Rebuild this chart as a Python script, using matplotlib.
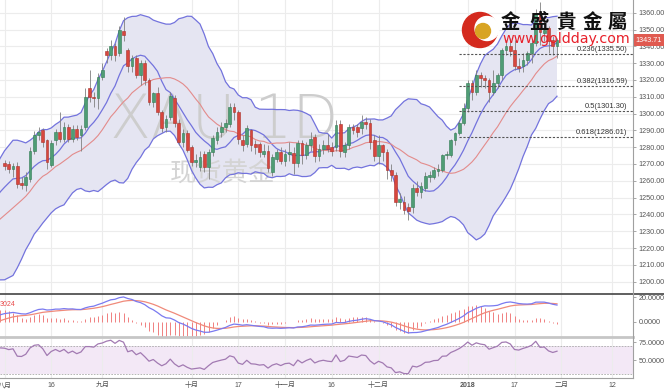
import matplotlib
matplotlib.use("Agg")
import matplotlib.pyplot as plt
from matplotlib.patches import Circle
import numpy as np
import pandas as pd

plt.rcParams['font.family'] = ['Liberation Sans', 'Noto Sans CJK SC', 'DejaVu Sans']

# closes before the first visible candle (May 1 - Jul 31 2017), only used to warm up the indicators
warmup_close = [
    1255.6, 1255.9, 1248.1, 1228.8, 1228.0, 1226.7, 1216.0, 1219.5, 1225.4, 1227.7,
    1230.0, 1236.3, 1258.4, 1252.6, 1253.8, 1260.7, 1251.0, 1251.7, 1256.5, 1266.6,
    1262.9, 1262.4, 1268.3, 1264.9, 1279.6, 1280.6, 1293.3, 1286.9, 1279.5, 1266.7,
    1266.5, 1266.7, 1260.5, 1254.6, 1254.2, 1243.7, 1242.3, 1247.0, 1250.3, 1256.3,
    1246.4, 1253.4, 1249.3, 1244.3, 1241.9, 1219.9, 1226.0, 1222.6, 1224.6, 1212.7,
    1213.0, 1214.2, 1219.2, 1217.6, 1228.1, 1234.2, 1241.5, 1241.4, 1245.0, 1254.4,
    1255.4, 1248.1, 1250.1, 1260.1, 1268.7, 1269.4,
]

# daily XAU candles, Aug 1 2017 - Jan 31 2018
opens = [
    1270.5, 1270, 1267, 1269, 1258.5, 1257.5, 1261, 1278, 1287, 1290,
    1284, 1269.5, 1284, 1289, 1285, 1292, 1285, 1291, 1287, 1292,
    1315, 1310, 1309, 1322, 1337, 1335, 1340, 1336, 1349, 1338,
    1328, 1333, 1323, 1330, 1320, 1307, 1312, 1301, 1292, 1298,
    1309, 1294.5, 1283, 1288.6, 1280, 1271, 1268, 1276, 1268, 1277,
    1284, 1289, 1292, 1294, 1304, 1301, 1284, 1282, 1290, 1282,
    1282, 1276, 1278, 1265, 1273, 1277, 1272, 1276, 1276.7, 1270.7,
    1282.6, 1275.5, 1281, 1286, 1275, 1279, 1281, 1280, 1280, 1294,
    1277, 1281, 1292, 1292, 1291.5, 1295, 1294.5, 1284, 1275, 1281,
    1277, 1266.5, 1263.6, 1247.5, 1247.5, 1244.5, 1244.5, 1256, 1253.5, 1256,
    1262, 1262.4, 1266, 1266.5, 1275.5, 1275.5, 1284, 1288.6, 1294.5, 1303.5,
    1318, 1313, 1323, 1321, 1320, 1313, 1318, 1323, 1338, 1340,
    1338, 1328, 1328, 1332, 1336, 1342, 1360.6, 1348, 1351, 1344,
    1340,
]
highs = [
    1272.5, 1272, 1270.5, 1271, 1262, 1265, 1280, 1289.5, 1292, 1291.5,
    1285, 1284, 1291, 1301, 1295, 1294, 1293, 1293, 1293, 1315,
    1326, 1313, 1324, 1330, 1339, 1344, 1342, 1352, 1357.5, 1339,
    1335, 1335, 1332, 1332, 1321, 1313, 1316, 1302, 1299, 1313,
    1311, 1297, 1291, 1290, 1281, 1276, 1278, 1278, 1279, 1287,
    1292, 1295, 1297, 1306, 1306, 1302, 1287, 1293, 1291, 1284,
    1283, 1282, 1281, 1276, 1279, 1280, 1279, 1283, 1280, 1284,
    1284, 1283, 1289, 1288, 1282, 1284, 1288, 1283, 1296, 1296,
    1283, 1294, 1294, 1294, 1299, 1298, 1297, 1287, 1287, 1282,
    1279, 1270, 1265, 1253, 1251, 1247, 1258, 1260, 1259, 1265,
    1266, 1268, 1270, 1276, 1278, 1285, 1289, 1296, 1306, 1320,
    1320, 1326, 1325, 1323, 1321, 1326, 1324, 1339, 1344, 1345,
    1344, 1333, 1336, 1337, 1344, 1362, 1366.07, 1356, 1352, 1346,
    1345,
]
lows = [
    1266.5, 1264.5, 1262, 1256, 1255, 1254, 1259.5, 1276, 1284.5, 1280,
    1267, 1268, 1281, 1283, 1283, 1283, 1283, 1284, 1278, 1290,
    1307, 1304, 1303, 1320, 1330, 1332, 1331, 1334, 1343, 1325,
    1325, 1321, 1317, 1317, 1305, 1304, 1299, 1289, 1289, 1296,
    1292, 1281, 1280, 1277, 1269, 1268, 1266, 1265, 1261, 1275,
    1282, 1286, 1289, 1292, 1296, 1282, 1278, 1280, 1278, 1276,
    1274, 1274, 1265, 1263, 1271, 1270, 1269, 1272, 1264, 1268,
    1270, 1273, 1278, 1271, 1272, 1276, 1277, 1275, 1278, 1274,
    1274, 1279, 1288, 1286, 1288, 1291, 1279, 1272, 1270, 1272,
    1261, 1260, 1245, 1243, 1240, 1236.53, 1241, 1251, 1250, 1254,
    1259, 1261, 1263, 1265, 1273, 1274, 1281, 1287, 1293, 1301,
    1308, 1311, 1316, 1315, 1307, 1311, 1315, 1320, 1335, 1334,
    1326, 1325, 1325, 1329, 1330, 1340, 1341, 1343, 1336, 1335,
    1333,
]
closes = [
    1269, 1267, 1269, 1258, 1257.5, 1262, 1278, 1287, 1289, 1283,
    1271, 1282.5, 1289, 1285, 1292, 1285, 1291, 1286, 1291, 1310,
    1310, 1309, 1322, 1326, 1335, 1340, 1335, 1350, 1347, 1328,
    1333, 1323, 1330, 1320, 1307, 1312, 1301, 1291.5, 1297, 1310.6,
    1294.5, 1283, 1288.6, 1278.5, 1271, 1272.5, 1274, 1268, 1277, 1285.6,
    1289, 1292, 1294.5, 1304, 1301, 1285, 1281, 1291.5, 1281, 1280,
    1277, 1278, 1267.7, 1274, 1277, 1272, 1276, 1277, 1270.7, 1282.6,
    1275.5, 1281, 1285, 1275, 1279, 1281, 1279, 1278, 1293, 1278,
    1281, 1292, 1290.5, 1289, 1295, 1294, 1283, 1275, 1281, 1277,
    1266.5, 1263.6, 1247.5, 1249, 1242.5, 1242, 1256, 1253.5, 1257, 1263,
    1263.6, 1266.5, 1267, 1275.5, 1276, 1284, 1288.6, 1294.5, 1303.5, 1318,
    1313, 1323, 1321, 1320, 1313, 1318, 1323, 1338, 1340, 1337,
    1328, 1327, 1332, 1336, 1342, 1359, 1348.7, 1350, 1343, 1340,
    1343.71,
]

tick_pos = [0, 11, 23, 44, 55, 66, 77, 88, 109, 120, 131, 143]
tick_labels = ["八月", "16", "九月", "十月", "17", "十一月", "16", "十二月", "2018", "17", "二月", "12"]
fib_ratios = [0.236, 0.382, 0.5, 0.618]

# ---- indicators -------------------------------------------------------------
n_warm = len(warmup_close)
all_close = pd.Series(warmup_close + closes)
x_all = np.arange(-n_warm, len(closes))
x = np.arange(len(closes))

mid = all_close.rolling(20).mean()
sd = all_close.rolling(20).std(ddof=0)
upper = mid + 2 * sd
lower = mid - 2 * sd
ma10 = all_close.rolling(10).mean()

ema12 = all_close.ewm(span=12, adjust=False).mean()
ema26 = all_close.ewm(span=26, adjust=False).mean()
macd = ema12 - ema26
signal = macd.ewm(span=9, adjust=False).mean()
hist = 2 * (macd - signal)

delta = all_close.diff()
gain = delta.clip(lower=0).ewm(alpha=1 / 14, adjust=False).mean()
loss = (-delta.clip(upper=0)).ewm(alpha=1 / 14, adjust=False).mean()
rsi = 100 - 100 / (1 + gain / loss)

# ---- layout (pixel based) ---------------------------------------------------
W, H = 664, 391
fig = plt.figure(figsize=(W / 100, H / 100), dpi=100)
axis_x = 633
x0_px, step_px = 4.5, 4.25
xlim = ((0 - x0_px) / step_px, (axis_x - x0_px) / step_px)


def panel(top, bottom):
    return fig.add_axes([0, 1 - bottom / H, axis_x / W, (bottom - top) / H])


ax = panel(0, 294)
ax_macd = panel(294, 337)
ax_rsi = panel(339, 378)

blue = '#7373dd'
grid_c = '#ececec'
for a in (ax, ax_macd, ax_rsi):
    a.set_xlim(*xlim)
    for s in a.spines.values():
        s.set_visible(False)
    a.yaxis.tick_right()
    a.tick_params(axis='y', length=2.5, width=0.6, color='#999', labelsize=5.2,
                  labelcolor='#555', pad=1.5)
    a.set_xticks(tick_pos)
    a.tick_params(axis='x', length=0)
    a.grid(axis='x', color=grid_c, lw=0.8)
    a.set_axisbelow(True)

# ---- price panel ------------------------------------------------------------
px_per_10 = 16.81
ax.set_ylim(1360 - (294 - 12.7) / px_per_10 * 10, 1360 + 12.7 / px_per_10 * 10)
ax.set_yticks(np.arange(1200, 1361, 10))
ax.yaxis.set_major_formatter(matplotlib.ticker.FormatStrFormatter('%.2f'))
ax.grid(axis='y', color=grid_c, lw=0.8)
ax.set_xticklabels([])

ax.fill_between(x_all, lower, upper, color='#e5e5f2', lw=0, zorder=1)
ax.plot(x_all, upper, color=blue, lw=0.9, zorder=2)
ax.plot(x_all, lower, color=blue, lw=0.9, zorder=2)
ax.plot(x_all, ma10, color=blue, lw=0.9, zorder=2)
ax.plot(x_all, mid, color='#e38b8b', lw=0.8, zorder=2)

ax.text(51.6, 1295.5, "XAU 1D", fontsize=43, color='#cdcdcd', ha='center', va='center',
        family='DejaVu Sans', fontweight='light', zorder=1.5)
ax.text(51.2, 1264.5, "现货黄金", fontsize=19, color='#d4d4d4', ha='center', va='center',
        family=['Noto Sans CJK SC'], zorder=1.5)

o = np.array(opens)
c = np.array(closes)
up = c >= o
body_lo = np.minimum(o, c)
body_h = np.maximum(np.abs(c - o), 0.35)
ax.vlines(x, lows, highs, color='#808080', lw=0.6, zorder=3)
ax.bar(x[up], body_h[up], bottom=body_lo[up], width=0.7, color='#4f9d75',
       edgecolor='#2f7a52', lw=0.4, zorder=4)
ax.bar(x[~up], body_h[~up], bottom=body_lo[~up], width=0.7, color='#d8463e',
       edgecolor='#a9322b', lw=0.4, zorder=4)

# fibonacci retracement of the swing
swing_hi, swing_lo = max(highs), min(lows)
for r in fib_ratios:
    lvl = swing_hi - r * (swing_hi - swing_lo)
    ax.hlines(lvl, 107, xlim[1], colors='#555', lw=0.8, linestyles=(0, (2, 1.5)), zorder=5)
    ax.text(146.6, lvl + 0.6, f"{r:g}({lvl:.2f})", ha='right', va='bottom',
            fontsize=5.4, color='#333', zorder=5)

ax.text(1.004, closes[-1], f"{closes[-1]:.2f}", transform=ax.get_yaxis_transform(),
        ha='left', va='center', fontsize=5.2, color='white', zorder=6, clip_on=False,
        bbox=dict(boxstyle='square,pad=0.35', fc='#e05a50', ec='none'))

# ---- MACD panel -------------------------------------------------------------
ax_macd.set_ylim(-12.9, 22.9)
ax_macd.set_yticks([0, 20])
ax_macd.yaxis.set_major_formatter(matplotlib.ticker.FormatStrFormatter('%.4f'))
ax_macd.set_xticklabels([])
hv = hist.values
bar_top = np.where(np.abs(hv) < 0.6, np.where(hv < 0, -0.6, 0.6), hv)
ax_macd.vlines(x_all, 0, bar_top, color='#f08080', lw=0.7)
ax_macd.plot(x_all, signal, color='#f08a7a', lw=0.9)
ax_macd.plot(x_all, macd, color='#7a7af0', lw=0.9)
ax_macd.set_xlim(*xlim)

# ---- RSI panel --------------------------------------------------------------
ax_rsi.set_ylim(25, 79.2)
ax_rsi.set_yticks([50, 75])
ax_rsi.yaxis.set_major_formatter(matplotlib.ticker.FormatStrFormatter('%.4f'))
ax_rsi.axhspan(30, 70, color='#f3e8f6', lw=0, zorder=0)
ax_rsi.axhline(70, color='#aaa', lw=0.6, ls=(0, (2, 1.5)))
ax_rsi.axhline(30, color='#aaa', lw=0.6, ls=(0, (2, 1.5)))
ax_rsi.plot(x_all, rsi, color='#a27ab2', lw=0.9)
ax_rsi.set_xlim(*xlim)
ax_rsi.set_xticklabels(tick_labels)
ax_rsi.tick_params(axis='x', labelsize=5, labelcolor='#555', pad=3)
for lab in ax_rsi.get_xticklabels():
    if lab.get_text() == "2018":
        lab.set_fontweight('bold')

# ---- overlay: frame lines, logo --------------------------------------------
ov = fig.add_axes([0, 0, 1, 1], zorder=10)
ov.set_xlim(0, W)
ov.set_ylim(H, 0)
ov.axis('off')
ov.patch.set_alpha(0)
ov.plot([0, W], [294, 294], color='#444', lw=1.2)
ov.plot([0, axis_x], [336.5, 336.5], color='#c6c6c6', lw=2)
ov.plot([0, axis_x], [377.5, 377.5], color='#a0a0a0', lw=0.8)
ov.plot([axis_x, axis_x], [0, 377.5], color='#a0a0a0', lw=0.8)
ov.text(0, 304, "3024", fontsize=5, color='#e84a4a', va='center', ha='left')

ov.add_patch(Circle((480, 30), 17.5, color='#d42a1e'))
ov.add_patch(Circle((487, 28.5), 12, color='white'))
ov.add_patch(Circle((483, 31), 7.5, color='#d8a423'))
for ch, cx in zip("金盛貴金屬", [510, 539, 566, 592, 617]):
    ov.text(cx, 22, ch, fontsize=14, color='#111', ha='center', va='center',
            family=['Noto Sans CJK TC'], fontweight='bold')
ov.text(502, 39.5, "www.goldday.com", fontsize=10.3, color='#e8202a', ha='left', va='center',
        family='DejaVu Sans')

fig.savefig("out.png", dpi=100)
